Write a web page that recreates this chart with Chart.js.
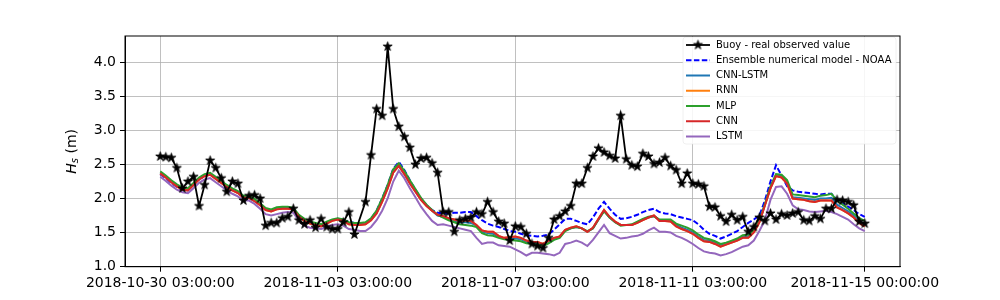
<!DOCTYPE html>
<html>
<head>
<meta charset="utf-8">
<title>Hs - buoy vs models</title>
<script src="https://cdn.jsdelivr.net/npm/chart.js@4.4.1/dist/chart.umd.min.js"></script>
<style>
  html, body { margin: 0; padding: 0; background: #fff; }
  #wrap { width: 1000px; height: 300px; }
</style>
</head>
<body>
<div id="wrap"><canvas id="chart" width="1000" height="300"></canvas></div>
<script>
// time axis: hours after 2018-10-30 03:00, one sample every 3 h
const HOURS = Array.from({ length: 128 }, (_, i) => i * 3);
const TICK_HOURS = [0, 96, 192, 288, 381];
const TICK_LABELS = ['2018-10-30 03:00:00', '2018-11-03 03:00:00', '2018-11-07 03:00:00',
	'2018-11-11 03:00:00', '2018-11-15 00:00:00'];
const Y_TICKS = [1.0, 1.5, 2.0, 2.5, 3.0, 3.5, 4.0];

const BUOY = [
	2.62, 2.61, 2.60, 2.45, 2.15, 2.25, 2.32, 1.89, 2.20, 2.56, 2.45, 2.30, 2.10, 2.25, 2.22, 1.97,
	2.04, 2.05, 2.00, 1.60, 1.64, 1.64, 1.71, 1.73, 1.85, 1.68, 1.62, 1.68, 1.57, 1.70, 1.58, 1.55,
	1.55, 1.65, 1.80, 1.47, null, 1.95, 2.64, 3.32, 3.22, 4.24, 3.32, 3.06, 2.91, 2.75, 2.50, 2.59,
	2.60, 2.52, 2.38, 1.80, 1.80, 1.51, 1.68, 1.70, 1.72, 1.80, 1.77, 1.95, 1.80, 1.66, 1.63, 1.38,
	1.59, 1.58, 1.48, 1.33, 1.30, 1.27, 1.42, 1.69, 1.74, 1.81, 1.89, 2.22, 2.22, 2.45, 2.62, 2.74,
	2.68, 2.63, 2.59, 3.22, 2.58, 2.49, 2.47, 2.66, 2.62, 2.51, 2.53, 2.60, 2.48, 2.42, 2.22, 2.37,
	2.22, 2.21, 2.18, 1.88, 1.87, 1.74, 1.66, 1.76, 1.68, 1.73, 1.51, 1.58, 1.72, 1.67, 1.78, 1.69,
	1.77, 1.75, 1.78, 1.80, 1.68, 1.67, 1.74, 1.70, 1.85, 1.85, 1.98, 1.97, 1.95, 1.90, 1.66, 1.63
];
const NOAA = [
	2.36, 2.30, 2.23, 2.17, 2.12, 2.12, 2.20, 2.28, 2.33, 2.36, 2.30, 2.24, 2.18, 2.13, 2.09, 2.02,
	2.02, 1.97, 1.91, 1.84, 1.82, 1.85, 1.86, 1.86, 1.85, 1.74, 1.68, 1.64, 1.62, 1.60, 1.64, 1.68,
	1.70, 1.68, 1.66, 1.64, 1.63, 1.64, 1.70, 1.82, 2.00, 2.20, 2.44, 2.54, 2.42, 2.27, 2.13, 2.00,
	1.90, 1.83, 1.79, 1.78, 1.78, 1.79, 1.79, 1.80, 1.80, 1.74, 1.68, 1.63, 1.60, 1.58, 1.55, 1.52,
	1.51, 1.48, 1.46, 1.45, 1.44, 1.45, 1.47, 1.54, 1.62, 1.70, 1.70, 1.67, 1.64, 1.62, 1.72, 1.85,
	1.95, 1.85, 1.76, 1.70, 1.71, 1.73, 1.76, 1.80, 1.83, 1.85, 1.80, 1.78, 1.77, 1.74, 1.72, 1.70,
	1.68, 1.62, 1.54, 1.48, 1.45, 1.41, 1.44, 1.48, 1.52, 1.58, 1.64, 1.69, 1.75, 1.97, 2.25, 2.49,
	2.34, 2.18, 2.12, 2.10, 2.09, 2.08, 2.07, 2.06, 2.07, 2.07, 1.97, 1.93, 1.88, 1.83, 1.77, 1.73
];
const CNN_LSTM = [
	2.38, 2.32, 2.25, 2.19, 2.14, 2.13, 2.21, 2.29, 2.34, 2.36, 2.30, 2.24, 2.18, 2.13, 2.09, 2.02,
	2.02, 1.97, 1.91, 1.84, 1.82, 1.85, 1.86, 1.86, 1.85, 1.74, 1.68, 1.64, 1.62, 1.60, 1.64, 1.68,
	1.70, 1.68, 1.63, 1.62, 1.62, 1.63, 1.69, 1.79, 1.97, 2.17, 2.40, 2.50, 2.38, 2.24, 2.11, 1.99,
	1.90, 1.82, 1.75, 1.73, 1.70, 1.67, 1.65, 1.65, 1.64, 1.60, 1.51, 1.49, 1.48, 1.44, 1.41, 1.41,
	1.41, 1.40, 1.36, 1.35, 1.34, 1.32, 1.36, 1.41, 1.43, 1.53, 1.56, 1.58, 1.56, 1.51, 1.56, 1.69,
	1.82, 1.72, 1.65, 1.61, 1.61, 1.61, 1.65, 1.69, 1.72, 1.74, 1.68, 1.68, 1.67, 1.61, 1.57, 1.54,
	1.50, 1.44, 1.39, 1.38, 1.35, 1.31, 1.33, 1.36, 1.39, 1.44, 1.44, 1.52, 1.66, 1.91, 2.16, 2.34,
	2.33, 2.24, 2.02, 2.01, 2.00, 1.99, 1.98, 2.00, 2.00, 2.01, 1.91, 1.86, 1.81, 1.75, 1.67, 1.62
];
const RNN = [
	2.37, 2.31, 2.24, 2.18, 2.13, 2.12, 2.20, 2.28, 2.33, 2.35, 2.29, 2.23, 2.17, 2.12, 2.08, 2.01,
	2.01, 1.96, 1.90, 1.83, 1.81, 1.84, 1.85, 1.85, 1.84, 1.73, 1.67, 1.63, 1.61, 1.59, 1.63, 1.67,
	1.69, 1.67, 1.62, 1.61, 1.61, 1.62, 1.68, 1.78, 1.95, 2.15, 2.38, 2.48, 2.36, 2.22, 2.10, 1.98,
	1.89, 1.82, 1.76, 1.74, 1.71, 1.69, 1.67, 1.68, 1.67, 1.61, 1.53, 1.51, 1.51, 1.45, 1.42, 1.43,
	1.44, 1.42, 1.38, 1.36, 1.36, 1.33, 1.38, 1.42, 1.44, 1.54, 1.57, 1.59, 1.56, 1.51, 1.57, 1.70,
	1.83, 1.73, 1.66, 1.61, 1.61, 1.61, 1.64, 1.68, 1.72, 1.75, 1.67, 1.67, 1.66, 1.59, 1.55, 1.52,
	1.48, 1.42, 1.37, 1.36, 1.33, 1.29, 1.32, 1.35, 1.38, 1.42, 1.42, 1.50, 1.65, 1.90, 2.15, 2.33,
	2.31, 2.22, 2.00, 1.99, 1.98, 1.96, 1.95, 1.97, 1.97, 1.97, 1.87, 1.83, 1.78, 1.72, 1.64, 1.59
];
const MLP = [
	2.40, 2.34, 2.27, 2.21, 2.16, 2.15, 2.23, 2.31, 2.36, 2.38, 2.32, 2.26, 2.20, 2.15, 2.11, 2.04,
	2.04, 1.99, 1.93, 1.86, 1.84, 1.87, 1.88, 1.88, 1.86, 1.76, 1.70, 1.66, 1.64, 1.62, 1.66, 1.69,
	1.71, 1.69, 1.65, 1.64, 1.64, 1.65, 1.71, 1.82, 2.00, 2.20, 2.43, 2.52, 2.41, 2.27, 2.14, 2.01,
	1.91, 1.83, 1.76, 1.72, 1.68, 1.65, 1.62, 1.61, 1.60, 1.58, 1.49, 1.46, 1.45, 1.42, 1.40, 1.39,
	1.38, 1.37, 1.34, 1.33, 1.32, 1.30, 1.34, 1.39, 1.42, 1.52, 1.56, 1.58, 1.56, 1.52, 1.56, 1.69,
	1.81, 1.72, 1.65, 1.60, 1.61, 1.62, 1.66, 1.70, 1.73, 1.74, 1.69, 1.69, 1.69, 1.63, 1.60, 1.57,
	1.53, 1.47, 1.42, 1.40, 1.37, 1.33, 1.35, 1.38, 1.41, 1.46, 1.47, 1.54, 1.67, 1.92, 2.18, 2.36,
	2.35, 2.27, 2.06, 2.05, 2.04, 2.03, 2.02, 2.04, 2.05, 2.07, 1.97, 1.91, 1.85, 1.78, 1.71, 1.67
];
const CNN = [
	2.37, 2.31, 2.24, 2.18, 2.13, 2.12, 2.20, 2.28, 2.33, 2.35, 2.29, 2.23, 2.17, 2.12, 2.08, 2.01,
	2.01, 1.96, 1.90, 1.83, 1.81, 1.84, 1.85, 1.85, 1.84, 1.73, 1.67, 1.63, 1.61, 1.59, 1.63, 1.67,
	1.69, 1.67, 1.62, 1.61, 1.61, 1.62, 1.68, 1.78, 1.95, 2.15, 2.38, 2.48, 2.36, 2.22, 2.10, 1.98,
	1.89, 1.82, 1.76, 1.74, 1.71, 1.69, 1.67, 1.68, 1.67, 1.61, 1.53, 1.51, 1.51, 1.45, 1.42, 1.43,
	1.44, 1.42, 1.38, 1.36, 1.36, 1.33, 1.38, 1.42, 1.44, 1.54, 1.57, 1.59, 1.56, 1.51, 1.57, 1.70,
	1.83, 1.73, 1.66, 1.61, 1.61, 1.61, 1.64, 1.68, 1.72, 1.75, 1.67, 1.67, 1.66, 1.59, 1.55, 1.52,
	1.48, 1.42, 1.37, 1.36, 1.33, 1.29, 1.32, 1.35, 1.38, 1.42, 1.42, 1.50, 1.65, 1.90, 2.15, 2.33,
	2.31, 2.22, 2.00, 1.99, 1.98, 1.96, 1.95, 1.97, 1.97, 1.97, 1.87, 1.83, 1.78, 1.72, 1.64, 1.59
];
const LSTM = [
	2.32, 2.26, 2.19, 2.13, 2.09, 2.08, 2.15, 2.23, 2.28, 2.30, 2.24, 2.18, 2.12, 2.07, 2.03, 1.97,
	1.97, 1.92, 1.85, 1.77, 1.75, 1.77, 1.79, 1.80, 1.79, 1.67, 1.60, 1.57, 1.56, 1.55, 1.58, 1.61,
	1.62, 1.60, 1.55, 1.54, 1.52, 1.52, 1.58, 1.68, 1.82, 2.00, 2.25, 2.41, 2.30, 2.15, 2.02, 1.88,
	1.77, 1.67, 1.61, 1.62, 1.60, 1.58, 1.56, 1.54, 1.52, 1.42, 1.33, 1.35, 1.35, 1.31, 1.30, 1.29,
	1.25, 1.21, 1.16, 1.20, 1.20, 1.19, 1.18, 1.16, 1.20, 1.33, 1.35, 1.38, 1.35, 1.30, 1.39, 1.50,
	1.61, 1.49, 1.45, 1.41, 1.42, 1.44, 1.45, 1.48, 1.53, 1.57, 1.51, 1.51, 1.50, 1.45, 1.42, 1.38,
	1.33, 1.27, 1.22, 1.20, 1.19, 1.16, 1.18, 1.21, 1.25, 1.29, 1.31, 1.38, 1.52, 1.68, 1.98, 2.17,
	2.18, 2.07, 1.90, 1.84, 1.83, 1.81, 1.80, 1.81, 1.82, 1.80, 1.77, 1.73, 1.69, 1.62, 1.56, 1.52
];

const FONT = '"DejaVu Sans", sans-serif';

// filled 5-point star like matplotlib's '*' marker
function makeStar(r) {
	const size = Math.ceil(r * 2 + 3);
	const c = document.createElement('canvas');
	c.width = size; c.height = size;
	const g = c.getContext('2d');
	g.beginPath();
	for (let k = 0; k < 10; k++) {
		const rad = k % 2 ? r * 0.382 : r;
		const a = -Math.PI / 2 + k * Math.PI / 5;
		g.lineTo(size / 2 + rad * Math.cos(a), size / 2 + rad * Math.sin(a));
	}
	g.closePath();
	g.fillStyle = '#000';
	g.fill();
	g.lineWidth = 0.8;
	g.strokeStyle = '#000';
	g.stroke();
	return c;
}
const STAR = makeStar(4.8);

const toPoints = vals => HOURS.map((h, i) => ({ x: h, y: vals[i] }));

const SERIES = [
	{ label: 'Buoy - real observed value', data: BUOY, color: '#000000', dash: [], order: 0 },
	{ label: 'Ensemble numerical model - NOAA', data: NOAA, color: '#0000ff', dash: [5.5, 2.4], order: 6 },
	{ label: 'CNN-LSTM', data: CNN_LSTM, color: '#1f77b4', dash: [], order: 5 },
	{ label: 'RNN', data: RNN, color: '#ff7f0e', dash: [], order: 4 },
	{ label: 'MLP', data: MLP, color: '#2ca02c', dash: [], order: 3 },
	{ label: 'CNN', data: CNN, color: '#d62728', dash: [], order: 2 },
	{ label: 'LSTM', data: LSTM, color: '#9467bd', dash: [], order: 1 }
];

const datasets = SERIES.map((s, i) => ({
	label: s.label,
	data: toPoints(s.data),
	borderColor: s.color,
	backgroundColor: s.color,
	borderWidth: i === 0 ? 1.8 : 2,
	borderDash: s.dash,
	pointStyle: i === 0 ? STAR : 'circle',
	pointRadius: i === 0 ? 5 : 0,
	pointHoverRadius: i === 0 ? 5 : 0,
	spanGaps: true,
	tension: 0,
	fill: false,
	order: s.order
}));

// matplotlib-like legend in the upper right of the axes
const legendBox = {
	id: 'legendBox',
	afterDatasetsDraw(chart) {
		const ctx = chart.ctx;
		const x0 = 683, y0 = 37, w = 213, h = 107, r = 3;
		ctx.save();
		ctx.beginPath();
		ctx.moveTo(x0 + r, y0);
		ctx.arcTo(x0 + w, y0, x0 + w, y0 + h, r);
		ctx.arcTo(x0 + w, y0 + h, x0, y0 + h, r);
		ctx.arcTo(x0, y0 + h, x0, y0, r);
		ctx.arcTo(x0, y0, x0 + w, y0, r);
		ctx.closePath();
		ctx.fillStyle = 'rgba(255,255,255,0.85)';
		ctx.fill();
		ctx.strokeStyle = 'rgba(230,230,230,0.6)';
		ctx.lineWidth = 1;
		ctx.stroke();

		ctx.font = '10px ' + FONT;
		ctx.textBaseline = 'middle';
		ctx.fillStyle = '#000';
		SERIES.forEach((s, i) => {
			const y = 45 + i * 15.25;
			ctx.beginPath();
			ctx.setLineDash(s.dash);
			ctx.strokeStyle = s.color;
			ctx.lineWidth = i === 0 ? 1.8 : 2;
			ctx.moveTo(686, y);
			ctx.lineTo(710, y);
			ctx.stroke();
			ctx.setLineDash([]);
			if (i === 0) ctx.drawImage(STAR, 698 - STAR.width / 2, y - STAR.height / 2);
			ctx.fillText(s.label, 716, y);
		});
		ctx.restore();
	},
	afterDraw(chart) {
		const ctx = chart.ctx;
		const a = chart.chartArea;
		ctx.save();
		// full axes frame
		ctx.strokeStyle = '#000';
		ctx.lineWidth = 1;
		ctx.strokeRect(a.left, a.top, a.right - a.left, a.bottom - a.top);

		// y label: italic H with subscript s, then (m)
		ctx.translate(72, (a.top + a.bottom) / 2);
		ctx.rotate(-Math.PI / 2);
		ctx.textBaseline = 'middle';
		ctx.fillStyle = '#000';
		ctx.font = 'italic 14px ' + FONT;
		const wH = ctx.measureText('H').width;
		ctx.font = 'italic 10px ' + FONT;
		const wS = ctx.measureText('s').width;
		ctx.font = '14px ' + FONT;
		const wM = ctx.measureText(' (m)').width;
		let x = -(wH + wS + wM) / 2;
		ctx.font = 'italic 14px ' + FONT;
		ctx.fillText('H', x, 0);
		x += wH;
		ctx.font = 'italic 10px ' + FONT;
		ctx.fillText('s', x, 3);
		x += wS;
		ctx.font = '14px ' + FONT;
		ctx.fillText(' (m)', x, 0);
		ctx.restore();
	}
};

Chart.defaults.font.family = FONT;
Chart.defaults.color = '#000';

new Chart(document.getElementById('chart'), {
	type: 'line',
	data: { datasets },
	options: {
		responsive: false,
		animation: false,
		devicePixelRatio: 1,
		layout: { padding: { left: 0, top: 36, right: 100, bottom: 0 } },
		plugins: {
			legend: { display: false },
			tooltip: { enabled: false }
		},
		scales: {
			x: {
				type: 'linear',
				min: -19.05,
				max: 400.05,
				afterBuildTicks: s => { s.ticks = TICK_HOURS.map(v => ({ value: v })); },
				afterFit: s => { s.height = 33.3; },
				ticks: {
					autoSkip: false,
					maxRotation: 0,
					padding: 3,
					font: { size: 14 },
					color: '#000',
					callback: (v, i) => TICK_LABELS[i]
				},
				grid: { color: '#b0b0b0', lineWidth: 0.8, tickColor: '#000', tickLength: 5, tickWidth: 1 },
				border: { color: '#000', width: 1 }
			},
			y: {
				min: 0.995,
				max: 4.395,
				afterBuildTicks: s => { s.ticks = Y_TICKS.map(v => ({ value: v })); },
				afterFit: s => { s.width = 125; },
				ticks: {
					padding: 4,
					font: { size: 14 },
					color: '#000',
					callback: v => Number(v).toFixed(1)
				},
				grid: { color: '#b0b0b0', lineWidth: 0.8, tickColor: '#000', tickLength: 5, tickWidth: 1 },
				border: { color: '#000', width: 1 }
			}
		}
	},
	plugins: [legendBox]
});
</script>
</body>
</html>
